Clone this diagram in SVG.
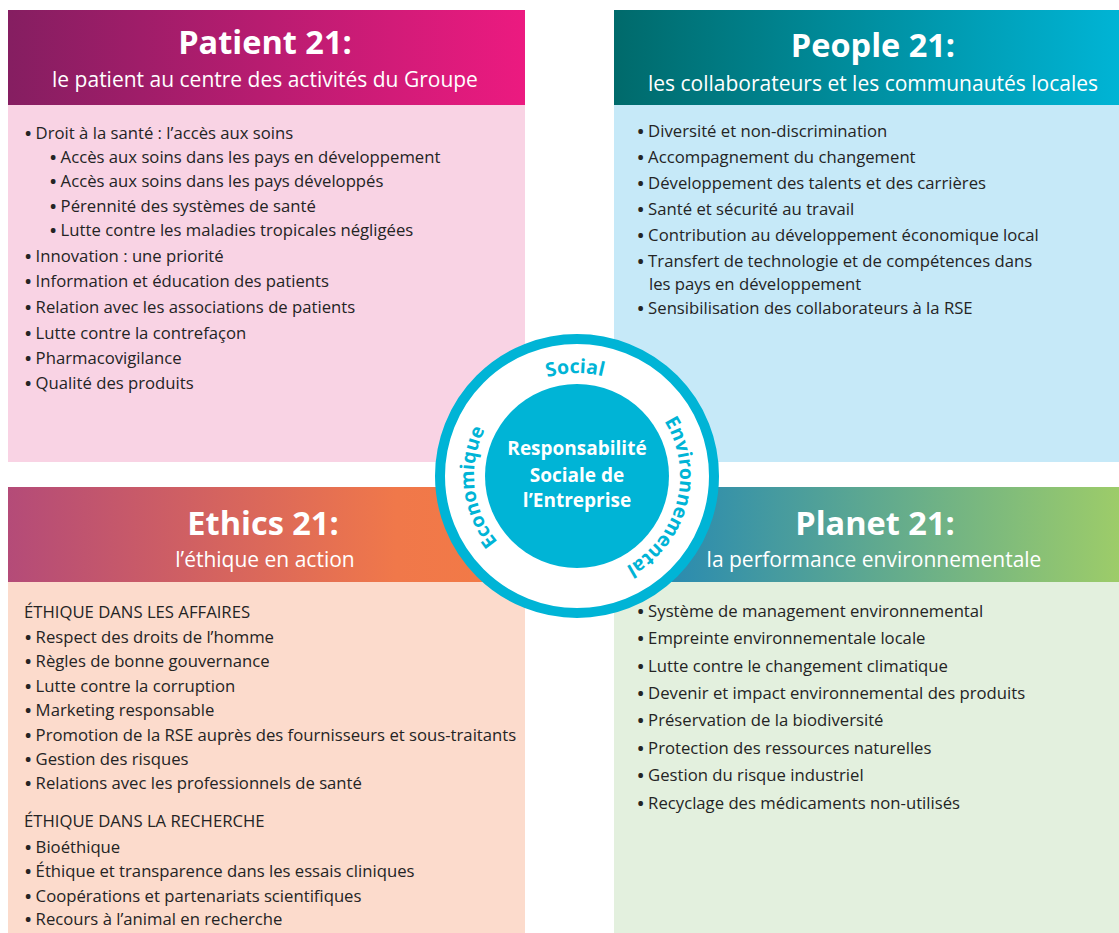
<svg xmlns="http://www.w3.org/2000/svg" width="1119" height="933" viewBox="0 0 1119 933">
<defs>
<linearGradient id="gPatient" x1="0" y1="0" x2="1" y2="0"><stop offset="0" stop-color="#851e61"/><stop offset="1" stop-color="#ec1a80"/></linearGradient>
<linearGradient id="gPeople" x1="0" y1="0" x2="1" y2="0"><stop offset="0" stop-color="#006a6b"/><stop offset="1" stop-color="#00b4d5"/></linearGradient>
<linearGradient id="gEthics" x1="0" y1="0" x2="1" y2="0"><stop offset="0" stop-color="#b44b78"/><stop offset="0.75" stop-color="#f0784a"/><stop offset="1" stop-color="#f37a45"/></linearGradient>
<linearGradient id="gPlanet" x1="0" y1="0" x2="1" y2="0"><stop offset="0" stop-color="#1c83b9"/><stop offset="1" stop-color="#9dcc69"/></linearGradient>
<path id="ringPath" d="M577,579 A103,103 0 1 1 577,373 A103,103 0 1 1 577,579"/>
</defs>
<style>
text{font-family:"Open Sans","Noto Sans","Liberation Sans",sans-serif}
.title{font-size:32.5px;font-weight:700;fill:#fff;text-anchor:middle}
.sub{font-size:21px;fill:#fff;text-anchor:middle}
.item{font-size:16.7px;fill:#242424}
.b{font-weight:700}
.ring{font-size:19.5px;font-weight:700;fill:#00b4d6}
.core{font-size:19px;font-weight:700;fill:#fff;text-anchor:middle}
</style>
<rect width="1119" height="933" fill="#fff"/>

<g id="patient">
<rect x="8" y="10" width="517" height="95" fill="url(#gPatient)"/>
<rect x="8" y="105" width="517" height="357" fill="#f9d3e4"/>
<text class="title" x="265" y="54">Patient 21:</text>
<text class="sub" x="265" y="87">le patient au centre des activités du Groupe</text>
<text class="item" x="25" y="139"><tspan class="b">•</tspan> Droit à la santé : l’accès aux soins</text>
<text class="item" x="50" y="163"><tspan class="b">•</tspan> Accès aux soins dans les pays en développement</text>
<text class="item" x="50" y="187"><tspan class="b">•</tspan> Accès aux soins dans les pays développés</text>
<text class="item" x="50" y="211.5"><tspan class="b">•</tspan> Pérennité des systèmes de santé</text>
<text class="item" x="50" y="235.5"><tspan class="b">•</tspan> Lutte contre les maladies tropicales négligées</text>
<text class="item" x="25" y="261.5"><tspan class="b">•</tspan> Innovation : une priorité</text>
<text class="item" x="25" y="287"><tspan class="b">•</tspan> Information et éducation des patients</text>
<text class="item" x="25" y="312.5"><tspan class="b">•</tspan> Relation avec les associations de patients</text>
<text class="item" x="25" y="338.5"><tspan class="b">•</tspan> Lutte contre la contrefaçon</text>
<text class="item" x="25" y="364"><tspan class="b">•</tspan> Pharmacovigilance</text>
<text class="item" x="25" y="389"><tspan class="b">•</tspan> Qualité des produits</text>
</g>

<g id="people">
<rect x="614" y="10" width="505" height="95" fill="url(#gPeople)"/>
<rect x="614" y="105" width="505" height="357" fill="#c6e9f8"/>
<text class="title" x="873" y="57">People 21:</text>
<text class="sub" x="873" y="91">les collaborateurs et les communautés locales</text>
<text class="item" x="637.5" y="137"><tspan class="b">•</tspan> Diversité et non-discrimination</text>
<text class="item" x="637.5" y="163"><tspan class="b">•</tspan> Accompagnement du changement</text>
<text class="item" x="637.5" y="189"><tspan class="b">•</tspan> Développement des talents et des carrières</text>
<text class="item" x="637.5" y="215"><tspan class="b">•</tspan> Santé et sécurité au travail</text>
<text class="item" x="637.5" y="241"><tspan class="b">•</tspan> Contribution au développement économique local</text>
<text class="item" x="637.5" y="266.5"><tspan class="b">•</tspan> Transfert de technologie et de compétences dans</text>
<text class="item" x="649" y="290">les pays en développement</text>
<text class="item" x="637.5" y="313.5"><tspan class="b">•</tspan> Sensibilisation des collaborateurs à la RSE</text>
</g>

<g id="ethics">
<rect x="8" y="487" width="517" height="95" fill="url(#gEthics)"/>
<rect x="8" y="582" width="517" height="351" fill="#fcdbcc"/>
<text class="title" x="263" y="535">Ethics 21:</text>
<text class="sub" x="265" y="567">l’éthique en action</text>
<text class="item" x="24" y="618">ÉTHIQUE DANS LES AFFAIRES</text>
<text class="item" x="25" y="643"><tspan class="b">•</tspan> Respect des droits de l’homme</text>
<text class="item" x="25" y="667"><tspan class="b">•</tspan> Règles de bonne gouvernance</text>
<text class="item" x="25" y="691.5"><tspan class="b">•</tspan> Lutte contre la corruption</text>
<text class="item" x="25" y="716"><tspan class="b">•</tspan> Marketing responsable</text>
<text class="item" x="25" y="740.5"><tspan class="b">•</tspan> Promotion de la RSE auprès des fournisseurs et sous-traitants</text>
<text class="item" x="25" y="765"><tspan class="b">•</tspan> Gestion des risques</text>
<text class="item" x="25" y="789"><tspan class="b">•</tspan> Relations avec les professionnels de santé</text>
<text class="item" x="24" y="827">ÉTHIQUE DANS LA RECHERCHE</text>
<text class="item" x="25" y="853"><tspan class="b">•</tspan> Bioéthique</text>
<text class="item" x="25" y="877"><tspan class="b">•</tspan> Éthique et transparence dans les essais cliniques</text>
<text class="item" x="25" y="901.5"><tspan class="b">•</tspan> Coopérations et partenariats scientifiques</text>
<text class="item" x="25" y="925"><tspan class="b">•</tspan> Recours à l’animal en recherche</text>
</g>

<g id="planet">
<rect x="614" y="487" width="505" height="95" fill="url(#gPlanet)"/>
<rect x="614" y="582" width="505" height="351" fill="#e3f0de"/>
<text class="title" x="875" y="535">Planet 21:</text>
<text class="sub" x="874" y="567">la performance environnementale</text>
<text class="item" x="637.5" y="616.5"><tspan class="b">•</tspan> Système de management environnemental</text>
<text class="item" x="637.5" y="644"><tspan class="b">•</tspan> Empreinte environnementale locale</text>
<text class="item" x="637.5" y="671.5"><tspan class="b">•</tspan> Lutte contre le changement climatique</text>
<text class="item" x="637.5" y="698.5"><tspan class="b">•</tspan> Devenir et impact environnemental des produits</text>
<text class="item" x="637.5" y="726"><tspan class="b">•</tspan> Préservation de la biodiversité</text>
<text class="item" x="637.5" y="753.5"><tspan class="b">•</tspan> Protection des ressources naturelles</text>
<text class="item" x="637.5" y="781"><tspan class="b">•</tspan> Gestion du risque industriel</text>
<text class="item" x="637.5" y="808.5"><tspan class="b">•</tspan> Recyclage des médicaments non-utilisés</text>
</g>

<g id="rse">
<circle cx="577" cy="476" r="137" fill="#fff" stroke="#00b4d6" stroke-width="10"/>
<circle cx="577" cy="476" r="92" fill="#00b4d6"/>
<text class="ring" text-anchor="middle"><textPath href="#ringPath" startOffset="49.7%">Social</textPath></text>
<text class="ring" text-anchor="middle"><textPath href="#ringPath" startOffset="79.1%">Environnemental</textPath></text>
<text class="ring" text-anchor="middle"><textPath href="#ringPath" startOffset="23.2%">Economique</textPath></text>
<text class="core" x="577" y="455">Responsabilité</text>
<text class="core" x="577" y="481.5">Sociale de</text>
<text class="core" x="577" y="507">l’Entreprise</text>
</g>
</svg>
